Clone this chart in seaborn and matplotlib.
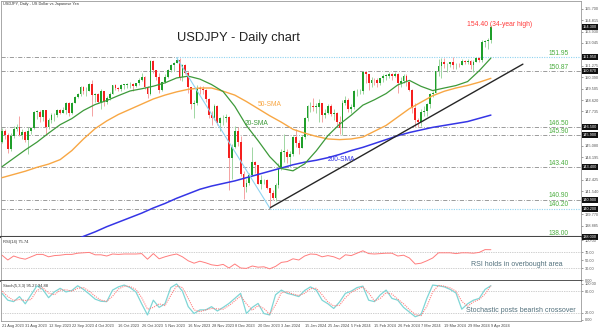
import numpy as np
import pandas as pd
import matplotlib
matplotlib.use("Agg")
import matplotlib.pyplot as plt
from matplotlib.transforms import blended_transform_factory
import seaborn as sns

# ---------------- data ----------------
date_labels = ["21 Aug 2023", "31 Aug 2023", "12 Sep 2023", "22 Sep 2023", "4 Oct 2023",
               "16 Oct 2023", "26 Oct 2023", "5 Nov 2023", "16 Nov 2023", "28 Nov 2023",
               "8 Dec 2023", "20 Dec 2023", "3 Jan 2024", "15 Jan 2024", "25 Jan 2024",
               "5 Feb 2024", "15 Feb 2024", "26 Feb 2024", "7 Mar 2024", "19 Mar 2024",
               "29 Mar 2024", "9 Apr 2024"]
date_label_bars = [0, 8, 16, 24, 32, 40, 48, 56, 64, 72, 80, 88, 96, 104, 112, 120,
                   128, 136, 144, 152, 160, 168]

opens = [145.38, 146.22, 145.90, 144.80, 145.85, 146.40, 146.55, 145.88, 146.15, 145.53,
         146.20, 146.48, 147.70, 147.72, 147.28, 147.83, 146.55, 147.10, 147.45, 147.47,
         147.85, 147.60, 147.88, 148.35, 147.60, 148.38, 148.85, 149.05, 149.60, 149.30,
         149.35, 149.85, 149.00, 149.05, 148.50, 149.30, 148.50, 148.75, 149.10, 149.80,
         149.55, 149.50, 149.80, 149.80, 149.85, 149.85, 149.70, 149.90, 150.20, 150.40,
         149.65, 149.10, 151.65, 150.95, 150.40, 149.40, 150.00, 150.40, 150.95, 151.35,
         151.50, 151.70, 150.40, 151.30, 150.75, 149.60, 148.30, 148.40, 149.55, 149.50,
         149.40, 148.70, 147.45, 147.25, 148.15, 146.80, 147.20, 147.20, 147.30, 144.10,
         144.95, 146.20, 145.40, 142.90, 141.90, 142.20, 142.80, 143.80, 143.55, 142.10,
         142.40, 142.40, 141.80, 141.40, 141.00, 142.00, 143.30, 144.60, 144.60, 144.20,
         144.45, 145.75, 145.30, 144.90, 145.75, 147.20, 148.15, 148.15, 148.10, 148.10,
         148.40, 147.45, 147.65, 148.15, 147.50, 147.60, 146.90, 146.45, 148.40, 148.65,
         147.95, 148.10, 149.30, 149.30, 149.35, 150.80, 150.60, 149.95, 150.20, 150.15,
         149.95, 150.30, 150.50, 150.50, 150.65, 150.50, 150.65, 149.95, 150.10, 150.50,
         150.05, 149.40, 148.00, 147.10, 146.90, 147.70, 147.80, 148.30, 149.05, 149.15,
         150.90, 151.25, 151.60, 151.40, 151.40, 151.55, 151.30, 151.35, 151.30, 151.65,
         151.55, 151.65, 151.30, 151.60, 151.90, 151.75, 153.15, 153.20, 153.25]

highs = [146.42, 146.40, 146.10, 146.10, 146.63, 146.75, 147.37, 146.40, 146.25, 146.50,
         146.55, 147.80, 147.85, 147.85, 147.88, 147.88, 147.20, 147.60, 147.60, 147.95,
         147.95, 148.05, 148.45, 148.50, 148.45, 148.95, 149.20, 149.70, 149.70, 149.60,
         149.90, 150.15, 149.20, 149.15, 149.50, 149.35, 148.95, 149.25, 149.80, 149.85,
         149.65, 149.85, 149.85, 149.95, 150.00, 149.95, 149.95, 150.30, 150.75, 150.50,
         149.70, 151.70, 151.70, 150.95, 150.70, 150.05, 150.60, 151.00, 151.40, 151.60,
         151.90, 151.85, 151.40, 151.40, 150.90, 149.65, 148.60, 149.75, 149.70, 149.70,
         149.50, 148.80, 147.80, 148.30, 148.20, 147.30, 147.45, 147.50, 147.40, 145.20,
         146.60, 146.50, 145.80, 143.10, 142.50, 142.95, 144.95, 143.90, 143.60, 142.80,
         142.50, 142.50, 141.80, 141.65, 142.20, 143.70, 144.80, 145.95, 144.80, 144.65,
         145.80, 146.40, 145.55, 145.90, 147.30, 148.20, 148.50, 148.80, 148.40, 148.70,
         148.40, 147.90, 148.30, 148.30, 147.90, 147.70, 147.40, 148.60, 148.90, 148.80,
         148.30, 149.40, 149.45, 149.50, 150.90, 150.90, 150.60, 150.40, 150.30, 150.30,
         150.35, 150.60, 150.60, 150.80, 150.75, 150.80, 150.70, 150.40, 150.60, 150.60,
         150.10, 149.50, 148.40, 147.20, 147.90, 148.15, 148.40, 149.15, 149.30, 150.90,
         151.80, 151.85, 151.85, 151.50, 151.60, 151.95, 151.45, 151.50, 151.80, 151.75,
         151.80, 151.75, 151.75, 151.95, 151.95, 153.25, 153.30, 153.40, 154.40]

lows = [145.30, 145.56, 144.55, 144.70, 145.70, 146.20, 145.80, 145.60, 145.35, 144.45,
        146.00, 146.40, 147.15, 146.90, 147.00, 145.90, 146.40, 146.80, 147.00, 147.30,
        147.50, 147.60, 147.55, 147.35, 147.55, 148.35, 148.75, 148.90, 149.10, 148.90,
        149.30, 147.40, 148.50, 148.40, 147.90, 148.15, 148.30, 148.60, 149.05, 149.40,
        149.30, 149.35, 149.50, 149.55, 149.55, 149.30, 149.65, 149.80, 150.10, 149.50,
        148.80, 149.00, 150.70, 150.15, 149.20, 149.30, 149.90, 150.30, 150.80, 150.85,
        151.45, 150.15, 150.10, 150.60, 149.20, 147.90, 147.20, 148.20, 149.10, 149.10,
        148.50, 147.20, 146.70, 147.10, 146.65, 146.25, 146.70, 146.90, 141.65, 142.50,
        144.90, 145.05, 142.75, 140.95, 141.50, 142.00, 142.75, 143.00, 142.10, 141.75,
        142.10, 141.70, 140.25, 140.85, 140.80, 141.80, 143.20, 143.80, 143.70, 143.40,
        144.30, 145.00, 144.40, 144.90, 145.60, 147.00, 147.70, 147.80, 147.60, 146.95,
        146.90, 147.20, 147.50, 147.40, 147.10, 146.60, 146.00, 145.90, 148.20, 147.70,
        147.60, 147.90, 148.90, 149.10, 149.10, 149.90, 149.40, 149.60, 149.80, 149.60,
        149.80, 150.05, 150.20, 150.30, 150.20, 150.40, 149.20, 149.60, 149.90, 149.70,
        149.35, 147.60, 146.50, 146.50, 146.60, 147.40, 147.40, 148.00, 148.85, 149.15,
        150.50, 150.30, 151.10, 150.80, 151.20, 151.00, 151.00, 151.20, 151.30, 151.40,
        151.40, 151.00, 150.80, 151.55, 151.60, 151.60, 152.75, 152.60, 153.05]

closes = [146.22, 145.90, 144.80, 145.85, 146.40, 146.55, 145.88, 146.15, 145.53, 146.20,
          146.48, 147.70, 147.72, 147.28, 147.83, 146.55, 147.10, 147.45, 147.47, 147.85,
          147.60, 147.88, 148.35, 147.60, 148.38, 148.85, 149.05, 149.60, 149.30, 149.35,
          149.85, 149.00, 149.05, 148.50, 149.30, 148.50, 148.75, 149.10, 149.80, 149.55,
          149.50, 149.80, 149.80, 149.85, 149.85, 149.70, 149.90, 150.20, 150.40, 149.65,
          149.10, 151.65, 150.95, 150.40, 149.40, 150.00, 150.40, 150.95, 151.35, 151.50,
          151.70, 150.40, 151.30, 150.75, 149.60, 148.30, 148.40, 149.55, 149.50, 149.40,
          148.70, 147.45, 147.25, 148.15, 146.80, 147.20, 147.20, 147.30, 144.10, 144.95,
          146.20, 145.40, 142.90, 141.90, 142.20, 142.80, 143.80, 143.55, 142.10, 142.40,
          142.40, 141.80, 141.40, 141.00, 142.00, 143.30, 144.60, 144.60, 144.20, 144.45,
          145.75, 145.30, 144.90, 145.75, 147.20, 148.15, 148.15, 148.10, 148.10, 148.40,
          147.45, 147.65, 148.15, 147.50, 147.60, 146.90, 146.45, 148.40, 148.65, 147.95,
          148.10, 149.30, 149.30, 149.35, 150.80, 150.60, 149.95, 150.20, 150.15, 149.95,
          150.30, 150.50, 150.50, 150.65, 150.50, 150.65, 149.95, 150.10, 150.50, 150.05,
          149.40, 148.00, 147.10, 146.90, 147.70, 147.80, 148.30, 149.05, 149.15, 150.90,
          151.25, 151.60, 151.40, 151.40, 151.55, 151.30, 151.35, 151.30, 151.65, 151.55,
          151.65, 151.30, 151.60, 151.90, 151.75, 153.15, 153.20, 153.25, 154.30]

# moving averages, one value every 4th bar
sma_bars = [0, 4, 8, 12, 16, 20, 24, 28, 32, 36, 40, 44, 48, 52, 56, 60, 64, 68, 72, 76,
            80, 84, 88, 92, 96, 100, 104, 108, 112, 116, 120, 124, 128, 132, 136, 140,
            144, 148, 152, 156, 160, 164, 168]
sma20 = [143.45, 144.10, 144.75, 145.35, 146.05, 146.71, 147.18, 147.81, 148.27, 148.58,
         148.96, 149.32, 149.49, 149.69, 149.95, 150.33, 150.47, 150.24, 149.82, 149.27,
         148.13, 146.64, 145.47, 144.23, 143.31, 143.13, 143.67, 144.68, 145.86, 146.74,
         147.44, 148.22, 148.64, 149.12, 149.79, 150.14, 149.68, 149.35, 149.55, 149.74,
         150.05, 150.89, 151.87]
sma50 = [142.60, 142.85, 143.10, 143.40, 143.65, 144.00, 144.70, 145.60, 146.40, 147.00,
         147.50, 147.90, 148.30, 148.70, 149.00, 149.25, 149.45, 149.55, 149.55, 149.30,
         149.00, 148.50, 147.95, 147.40, 146.90, 146.35, 146.05, 145.80, 145.60, 145.55,
         145.60, 145.75, 146.20, 146.65, 147.30, 147.95, 148.45, 148.95, 149.30, 149.55,
         149.75, 150.00, 150.30]
sma200_bars = [24, 28, 32, 36, 40, 44, 48, 52, 56, 60, 64, 68, 72, 76, 80, 84, 88, 92, 96,
               100, 104, 108, 112, 116, 120, 124, 128, 132, 136, 140, 144, 148, 152, 156,
               160, 164, 168]
sma200 = [137.65, 138.05, 138.40, 138.80, 139.15, 139.50, 139.85, 140.25, 140.60, 141.00,
          141.35, 141.70, 141.95, 142.15, 142.35, 142.60, 142.85, 143.10, 143.35, 143.60,
          143.80, 143.95, 144.15, 144.40, 144.70, 144.95, 145.25, 145.55, 145.85, 146.10,
          146.30, 146.50, 146.65, 146.80, 146.95, 147.20, 147.45]

# oscillators, one value every 2nd bar
osc_bars = list(range(0, 169, 2))
rsi14 = [62, 50, 60, 55, 52, 58, 64, 64, 58, 61, 62, 64, 64, 67, 68, 69, 63, 63, 60, 65,
         64, 65, 65, 65, 66, 52, 66, 53, 58, 62, 65, 58, 48, 42, 47, 43, 38, 36, 39, 30,
         40, 30, 29, 35, 32, 33, 28, 34, 44, 46, 53, 50, 60, 65, 64, 58, 61, 58, 52, 63,
         61, 67, 73, 66, 65, 66, 67, 67, 60, 62, 55, 40, 42, 48, 55, 68, 68, 68, 66, 68,
         68, 67, 69, 76, 75.74]
stoch_k = [74, 55, 51, 65, 45, 70, 95, 85, 62, 78, 88, 78, 82, 95, 85, 72, 58, 52, 51, 83,
           92, 97, 90, 78, 45, 14, 55, 35, 45, 90, 100, 80, 37, 18, 28, 28, 37, 25, 35, 46,
           60, 74, 18, 35, 46, 18, 14, 70, 83, 74, 70, 65, 82, 92, 83, 55, 45, 32, 50, 74,
           80, 90, 94, 55, 51, 70, 83, 60, 55, 35, 22, 9, 15, 60, 97, 95, 92, 85, 75, 30,
           45, 55, 60, 85, 95.27]
stoch_d = [80, 65, 54, 57, 54, 57, 82, 90, 75, 70, 83, 84, 80, 88, 90, 80, 66, 55, 52, 66,
           86, 94, 93, 85, 62, 30, 35, 45, 40, 68, 95, 90, 60, 28, 23, 28, 32, 31, 30, 40,
           53, 67, 45, 27, 40, 32, 16, 42, 76, 78, 72, 68, 74, 87, 88, 70, 50, 39, 41, 62,
           77, 85, 92, 75, 53, 60, 76, 72, 58, 45, 29, 15, 12, 38, 78, 96, 94, 89, 80, 52,
           38, 50, 57, 72, 94.88]

levels = [151.95, 150.87, 146.50, 145.90, 143.40, 140.90, 140.20, 138.00]
level_labels = ["151.95", "150.87", "146.50", "145.90", "143.40", "140.90", "140.20", "138.00"]
price_ticks = [138.885, 139.770, 141.540, 142.425, 144.195, 145.080, 147.735, 148.620,
               149.505, 150.390, 151.275, 153.045, 153.930, 154.815, 155.700]

support_bars = [92, 179]
support_line = [140.25, 151.40]
fall_bars = [60, 92]
fall_line = [151.90, 140.25]

# ---------------- style ----------------
sns.set_theme(style="white")
plt.rcParams["font.family"] = ["Liberation Sans", "DejaVu Sans"]

GREEN_BODY = "#1f9f2a"
RED_BODY = "#f5201f"
GREEN_WICK = "#9fd6a2"
RED_WICK = "#f5a3a3"
LEVEL_GRAY = "#8c8c8c"
LEVEL_GREEN = "#4aad3e"
LIGHT_BLUE = "#8fd3f0"
NOTE = "#52707c"

W, H = 600, 330


def frame(x0, y0, x1, y1):
    return [x0 / W, 1 - y1 / H, (x1 - x0) / W, (y1 - y0) / H]


fig = plt.figure(figsize=(W / 100, H / 100), dpi=100)
ax = fig.add_axes(frame(1, 1, 581, 237))
ax_rsi = fig.add_axes(frame(1, 237, 581, 281), sharex=ax)
ax_st = fig.add_axes(frame(1, 281, 581, 321), sharex=ax)

# ---------------- candles ----------------
bars = pd.DataFrame({"bar": np.arange(len(closes)), "open": opens, "high": highs,
                     "low": lows, "close": closes})
rising = bars["close"] >= bars["open"]
ax.vlines(bars["bar"][rising], bars["low"][rising], bars["high"][rising],
          color=GREEN_WICK, lw=0.7, zorder=3)
ax.vlines(bars["bar"][~rising], bars["low"][~rising], bars["high"][~rising],
          color=RED_WICK, lw=0.7, zorder=3)
body_low = np.minimum(bars["open"], bars["close"])
body_size = np.maximum((bars["close"] - bars["open"]).abs(), 0.04)
ax.bar(bars["bar"], body_size, bottom=body_low, width=0.62,
       color=np.where(rising, GREEN_BODY, RED_BODY), linewidth=0, zorder=4)

# ---------------- horizontal levels ----------------
xmax_bar = (581 - 2) / 2.91
xmin_bar = (1 - 2) / 2.91
level_start = {151.95: fall_bars[0], 140.20: support_bars[0]}
for lv in levels[:-1]:
    if lv in level_start:
        s = level_start[lv]
        ax.hlines(lv, xmin_bar, s, color=LEVEL_GRAY, lw=0.6,
                  linestyles=[(0, (5, 2, 1, 2))], zorder=2)
        ax.hlines(lv, s, xmax_bar, color=LIGHT_BLUE, lw=0.8,
                  linestyles=[(0, (1, 1.2))], zorder=2)
    else:
        ax.hlines(lv, xmin_bar, xmax_bar, color=LEVEL_GRAY, lw=0.6,
                  linestyles=[(0, (5, 2, 1, 2))], zorder=2)

for lv, txt in zip(levels, level_labels):
    ax.text(194.8, lv + 0.03, txt, ha="right", va="bottom", fontsize=4.8,
            color=LEVEL_GREEN, zorder=6)

# ---------------- moving averages & trendlines ----------------
sma_df = pd.DataFrame({"bar": sma_bars, "sma20": sma20, "sma50": sma50})
sma200_df = pd.DataFrame({"bar": sma200_bars, "sma200": sma200})
sns.lineplot(data=sma200_df, x="bar", y="sma200", ax=ax, color="#3535e6", lw=1.1,
             legend=False, zorder=5)
sns.lineplot(data=sma_df, x="bar", y="sma50", ax=ax, color="#f8a744", lw=1.0,
             legend=False, zorder=5)
sns.lineplot(data=sma_df, x="bar", y="sma20", ax=ax, color="#3d9a3a", lw=0.9,
             legend=False, zorder=5)
sns.lineplot(x=support_bars, y=support_line, ax=ax, color="#262626", lw=1.0,
             legend=False, zorder=5)
sns.lineplot(x=fall_bars, y=fall_line, ax=ax, color=LIGHT_BLUE, lw=0.8,
             legend=False, zorder=5)

ax.text(92.1, 148.31, "50-SMA", fontsize=4.8, color="#f8a744", ha="center", va="center", zorder=6)
ax.text(87.6, 146.83, "20-SMA", fontsize=4.8, color="#3d9a3a", ha="center", va="center", zorder=6)
ax.text(116.8, 144.04, "200-SMA", fontsize=4.8, color="#3535e6", ha="center", va="center", zorder=6)
ax.text(171.1, 154.51, "154.40 (34-year high)", fontsize=4.9, color="#ff3b3b",
        ha="center", va="center", zorder=6)

ax.set_xlim(xmin_bar, xmax_bar)
ax.set_ylim(138.0, 156.295)

# right-hand price scale
ax.yaxis.tick_right()
ax.set_yticks(price_ticks)
ax.set_yticklabels([f"{v:.3f}" for v in price_ticks])
ax.tick_params(axis="y", labelsize=2.8, pad=1.2, length=1.5, width=0.4, colors="#555555")
ax.tick_params(axis="x", bottom=False, labelbottom=False)
right_tr = blended_transform_factory(ax.transAxes, ax.transData)
for lv in levels + [closes[-1]]:
    ax.text(1.003, lv, f"{lv:.3f}", transform=right_tr, fontsize=2.8, color="white",
            ha="left", va="center", zorder=8, clip_on=False,
            bbox=dict(boxstyle="square,pad=0.25", fc="#111111", ec="none"))

# ---------------- RSI panel ----------------
osc = pd.DataFrame({"bar": osc_bars, "rsi": rsi14, "k": stoch_k, "d": stoch_d})
for lv in (70, 30):
    ax_rsi.axhline(lv, color="#a0a0a0", lw=0.5, ls=(0, (1, 1.5)))
sns.lineplot(data=osc, x="bar", y="rsi", ax=ax_rsi, color="#ff7d7d", lw=0.7, legend=False)
ax_rsi.set_ylim(-2.5, 107.5)
ax_rsi.yaxis.tick_right()
ax_rsi.set_yticks([0, 30, 50, 70, 100])
ax_rsi.set_yticklabels(["0.00", "30.00", "50.00", "70.00", "100.00"])
ax_rsi.tick_params(axis="y", labelsize=2.8, pad=1.2, length=1.5, width=0.4, colors="#555555")
ax_rsi.tick_params(axis="x", bottom=False, labelbottom=False)
ax_rsi.text(0.004, 0.93, "RSI(14) 75.74", transform=ax_rsi.transAxes, fontsize=3,
            color="#333333", ha="left", va="top")
ax_rsi.text(177.0, 37.5, "RSI holds in overbought area", fontsize=5, color=NOTE,
            ha="center", va="center")

# ---------------- Stochastic panel ----------------
for lv in (80, 20):
    ax_st.axhline(lv, color="#a0a0a0", lw=0.5, ls=(0, (1, 1.5)))
sns.lineplot(data=osc, x="bar", y="k", ax=ax_st, color="#7fd6d6", lw=0.9, legend=False)
sns.lineplot(data=osc, x="bar", y="d", ax=ax_st, color="#ff8080", lw=0.8,
             linestyle=(0, (1, 1)), legend=False)
ax_st.set_ylim(-2.8, 108.3)
ax_st.yaxis.tick_right()
ax_st.set_yticks([0, 20, 80, 100])
ax_st.set_yticklabels(["0.00", "20.00", "80.00", "100.00"])
ax_st.tick_params(axis="y", labelsize=2.8, pad=1.2, length=1.5, width=0.4, colors="#555555")
ax_st.set_xticks(date_label_bars)
ax_st.set_xticklabels(date_labels, ha="left")
ax_st.tick_params(axis="x", labelsize=2.8, pad=1.0, length=1.5, width=0.4, colors="#444444")
ax_st.text(0.004, 0.93, "Stoch(5,3,3) 95.27 94.88", transform=ax_st.transAxes, fontsize=3,
           color="#333333", ha="left", va="top")
ax_st.text(178.4, 25, "Stochastic posts bearish crossover", fontsize=5, color=NOTE,
           ha="center", va="center")

for a in (ax, ax_rsi, ax_st):
    a.set_xlabel("")
    a.set_ylabel("")
    for sp in a.spines.values():
        sp.set_color("#9a9a9a")
        sp.set_linewidth(0.6)
ax.spines["bottom"].set_color("#474747")
ax.spines["bottom"].set_linewidth(1.5)
ax_rsi.spines["bottom"].set_color("#474747")
ax_rsi.spines["bottom"].set_linewidth(1.3)
ax_rsi.spines["top"].set_visible(False)
ax_st.spines["top"].set_visible(False)
ax.set_xlim(xmin_bar, xmax_bar)

# ---------------- titles ----------------
fig.text(3 / W, 1 - 2 / H, "USDJPY, Daily - US Dollar vs Japanese Yen", fontsize=2.8,
         color="#333333", ha="left", va="top")
fig.text(238 / W, 1 - 38 / H, "USDJPY - Daily chart", fontsize=9.3, color="#222222",
         ha="center", va="center")

fig.savefig("out.png", dpi=100)
